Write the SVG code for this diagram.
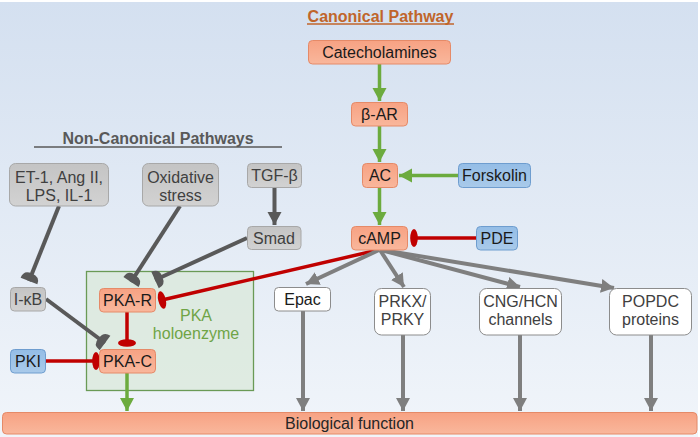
<svg xmlns="http://www.w3.org/2000/svg" width="700" height="437" viewBox="0 0 700 437">
<defs>
<linearGradient id="bg" x1="0" y1="0" x2="0" y2="1">
<stop offset="0" stop-color="#d4e0f0"/>
<stop offset="1" stop-color="#f1f5fa"/>
</linearGradient>
<linearGradient id="gOr" x1="0" y1="0" x2="0" y2="1">
<stop offset="0" stop-color="#f7a283"/>
<stop offset="1" stop-color="#f9b79c"/>
</linearGradient>
<linearGradient id="gGr" x1="0" y1="0" x2="0" y2="1">
<stop offset="0" stop-color="#c4c4c4"/>
<stop offset="1" stop-color="#d2d2d2"/>
</linearGradient>
<linearGradient id="gBl" x1="0" y1="0" x2="0" y2="1">
<stop offset="0" stop-color="#94bde6"/>
<stop offset="1" stop-color="#a9caea"/>
</linearGradient>
<marker id="aG" markerUnits="userSpaceOnUse" markerWidth="15" markerHeight="15" refX="13" refY="7" orient="auto" viewBox="0 0 15 14">
<path d="M0,0 L13,7 L0,14 Z" fill="#6cab3e"/>
</marker>
<marker id="aL" markerUnits="userSpaceOnUse" markerWidth="15" markerHeight="15" refX="13" refY="7" orient="auto" viewBox="0 0 15 14">
<path d="M0,0 L13,7 L0,14 Z" fill="#7f7f7f"/>
</marker>
<marker id="aD" markerUnits="userSpaceOnUse" markerWidth="15" markerHeight="15" refX="13" refY="7" orient="auto" viewBox="0 0 15 14">
<path d="M0,0 L13,7 L0,14 Z" fill="#595959"/>
</marker>
<marker id="tR" markerUnits="userSpaceOnUse" markerWidth="10" markerHeight="20" refX="5" refY="10" orient="auto" viewBox="0 0 10 20">
<ellipse cx="5" cy="10" rx="3.8" ry="9" fill="#c00000"/>
</marker>
<marker id="tD" markerUnits="userSpaceOnUse" markerWidth="12" markerHeight="22" refX="9" refY="11" orient="auto" viewBox="0 0 12 22">
<path d="M9,2 L9,20 Q0,20 1,11 Q1,2 9,2 Z" fill="#595959"/>
</marker>
</defs>
<style>
.t{font-family:"Liberation Sans",Arial,sans-serif;font-size:16px;text-anchor:middle;fill:#1a1a1a}
.tg{fill:#404040}
.or{fill:url(#gOr);stroke:#e58a68;stroke-width:1}
.gr{fill:url(#gGr);stroke:#a8a8a8;stroke-width:1}
.bl{fill:url(#gBl);stroke:#6e9dcf;stroke-width:1}
.wh{fill:#ffffff;stroke:#8c8c8c;stroke-width:1}
.green{stroke:#6cab3e;stroke-width:3.5;fill:none}
.red{stroke:#c00000;stroke-width:3.5;fill:none}
.dk{stroke:#595959;stroke-width:4;fill:none}
.lt{stroke:#7f7f7f;stroke-width:4;fill:none}
</style>
<rect x="0" y="0" width="700" height="437" fill="#ffffff"/>
<rect x="0" y="2" width="698" height="435" fill="url(#bg)"/>

<g id="titles">
<text x="380.5" y="21.5" class="t" style="font-weight:bold;fill:#c0652b;font-size:16px">Canonical Pathway</text>
<line x1="307" y1="24" x2="454" y2="24" stroke="#c0652b" stroke-width="1.5"/>
<text x="158" y="144" class="t" style="font-weight:bold;fill:#595959;font-size:16px">Non-Canonical Pathways</text>
<line x1="34" y1="147" x2="282" y2="147" stroke="#595959" stroke-width="1.5"/>
</g>

<g id="holoenzyme">
<rect x="86.5" y="271.5" width="167" height="119" fill="#d9e8da" fill-opacity="0.75" stroke="#6a9a56" stroke-width="1.3"/>
<text x="196" y="320.5" class="t" style="fill:#6fa446">PKA</text>
<text x="196" y="338.5" class="t" style="fill:#6fa446">holoenzyme</text>
</g>

<g id="connectors">
<line x1="379.5" y1="64" x2="379.5" y2="101" class="green" marker-end="url(#aG)"/>
<line x1="379.5" y1="126" x2="379.5" y2="162" class="green" marker-end="url(#aG)"/>
<line x1="458" y1="175.5" x2="399" y2="175.5" class="green" marker-end="url(#aG)"/>
<line x1="379.5" y1="188" x2="379.5" y2="225" class="green" marker-end="url(#aG)"/>
<line x1="127" y1="373" x2="127" y2="411" class="green" marker-end="url(#aG)"/>

<line x1="476" y1="238" x2="414" y2="238" class="red" marker-end="url(#tR)"/>
<line x1="378" y1="250" x2="162" y2="300" class="red" marker-end="url(#tR)"/>
<line x1="127" y1="312" x2="127" y2="343" class="red" marker-end="url(#tR)"/>
<line x1="46" y1="361" x2="96" y2="361" class="red" marker-end="url(#tR)"/>

<line x1="59" y1="206" x2="29" y2="281" class="dk" marker-end="url(#tD)"/>
<line x1="180" y1="206" x2="131" y2="282" class="dk" marker-end="url(#tD)"/>
<line x1="247" y1="238" x2="155" y2="280" class="dk" marker-end="url(#tD)"/>
<line x1="46" y1="299" x2="105" y2="343" class="dk" marker-end="url(#tD)"/>
<line x1="274.5" y1="188" x2="274.5" y2="225" class="dk" marker-end="url(#aD)"/>

<line x1="379" y1="250" x2="306" y2="284" class="lt" marker-end="url(#aL)"/>
<line x1="380" y1="250" x2="404" y2="287" class="lt" marker-end="url(#aL)"/>
<line x1="381" y1="250" x2="520" y2="287" class="lt" marker-end="url(#aL)"/>
<line x1="382" y1="250" x2="614" y2="288" class="lt" marker-end="url(#aL)"/>
<line x1="303" y1="311" x2="303" y2="411" class="lt" marker-end="url(#aL)"/>
<line x1="403" y1="335" x2="403" y2="411" class="lt" marker-end="url(#aL)"/>
<line x1="520" y1="335" x2="520" y2="411" class="lt" marker-end="url(#aL)"/>
<line x1="651" y1="335" x2="651" y2="411" class="lt" marker-end="url(#aL)"/>
</g>

<g id="catecholamines"><rect x="308.5" y="40.5" width="142" height="23.5" rx="4" class="or"/><text x="379.5" y="58" class="t">Catecholamines</text></g>
<g id="bAR"><rect x="351.5" y="102.5" width="56" height="23.5" rx="4" class="or"/><text x="379.5" y="120" class="t">β-AR</text></g>
<g id="AC"><rect x="362.5" y="163.5" width="35" height="24" rx="4" class="or"/><text x="380" y="181" class="t">AC</text></g>
<g id="forskolin"><rect x="458.5" y="163.5" width="72" height="24" rx="4" class="bl"/><text x="494.5" y="181" class="t">Forskolin</text></g>
<g id="cAMP"><rect x="351.5" y="226.5" width="56" height="23.5" rx="4" class="or"/><text x="379.5" y="244" class="t">cAMP</text></g>
<g id="PDE"><rect x="476.5" y="226.5" width="41" height="23.5" rx="4" class="bl"/><text x="497" y="244" class="t">PDE</text></g>

<g id="et1"><rect x="9.5" y="163.5" width="99" height="42.5" rx="6" class="gr"/><text x="59" y="182.5" class="t tg">ET-1, Ang II,</text><text x="59" y="200.5" class="t tg">LPS, IL-1</text></g>
<g id="oxidative"><rect x="142.5" y="163.5" width="76" height="42.5" rx="6" class="gr"/><text x="180.5" y="182.5" class="t tg">Oxidative</text><text x="180.5" y="200.5" class="t tg">stress</text></g>
<g id="tgfb"><rect x="247.5" y="163.5" width="54" height="24" rx="4" class="gr"/><text x="274.5" y="181" class="t tg">TGF-β</text></g>
<g id="smad"><rect x="247.5" y="226.5" width="53.5" height="23" rx="4" class="gr"/><text x="274" y="244" class="t tg">Smad</text></g>
<g id="ikb"><rect x="10.5" y="287.5" width="35" height="23.5" rx="4" class="gr"/><text x="28" y="305" class="t tg">I-κB</text></g>

<g id="pkar"><rect x="99.5" y="288.5" width="56" height="23.5" rx="4" class="or"/><text x="127.5" y="306" class="t">PKA-R</text></g>
<g id="pkac"><rect x="99.5" y="349.5" width="56" height="23.5" rx="4" class="or"/><text x="127.5" y="367" class="t">PKA-C</text></g>
<g id="pki"><rect x="10.5" y="349.5" width="35" height="23.5" rx="4" class="bl"/><text x="28" y="367" class="t">PKI</text></g>

<g id="epac"><rect x="274.5" y="287.5" width="56" height="23.5" rx="4" class="wh"/><text x="302.5" y="305" class="t">Epac</text></g>
<g id="prkx"><rect x="374.5" y="288.5" width="56" height="46.5" rx="7" class="wh"/><text x="402.5" y="307" class="t tg">PRKX/</text><text x="402.5" y="325" class="t tg">PRKY</text></g>
<g id="cng"><rect x="479.5" y="288.5" width="82" height="46.5" rx="7" class="wh"/><text x="520.5" y="307" class="t tg">CNG/HCN</text><text x="520.5" y="325" class="t tg">channels</text></g>
<g id="popdc"><rect x="609.5" y="288.5" width="82" height="46.5" rx="7" class="wh"/><text x="650.5" y="307" class="t tg">POPDC</text><text x="650.5" y="325" class="t tg">proteins</text></g>

<g id="biofunction"><rect x="2.5" y="412.5" width="694.5" height="21.5" rx="4" class="or"/><text x="285" y="429" class="t" style="text-anchor:start;fill:#262626">Biological function</text></g>
</svg>
